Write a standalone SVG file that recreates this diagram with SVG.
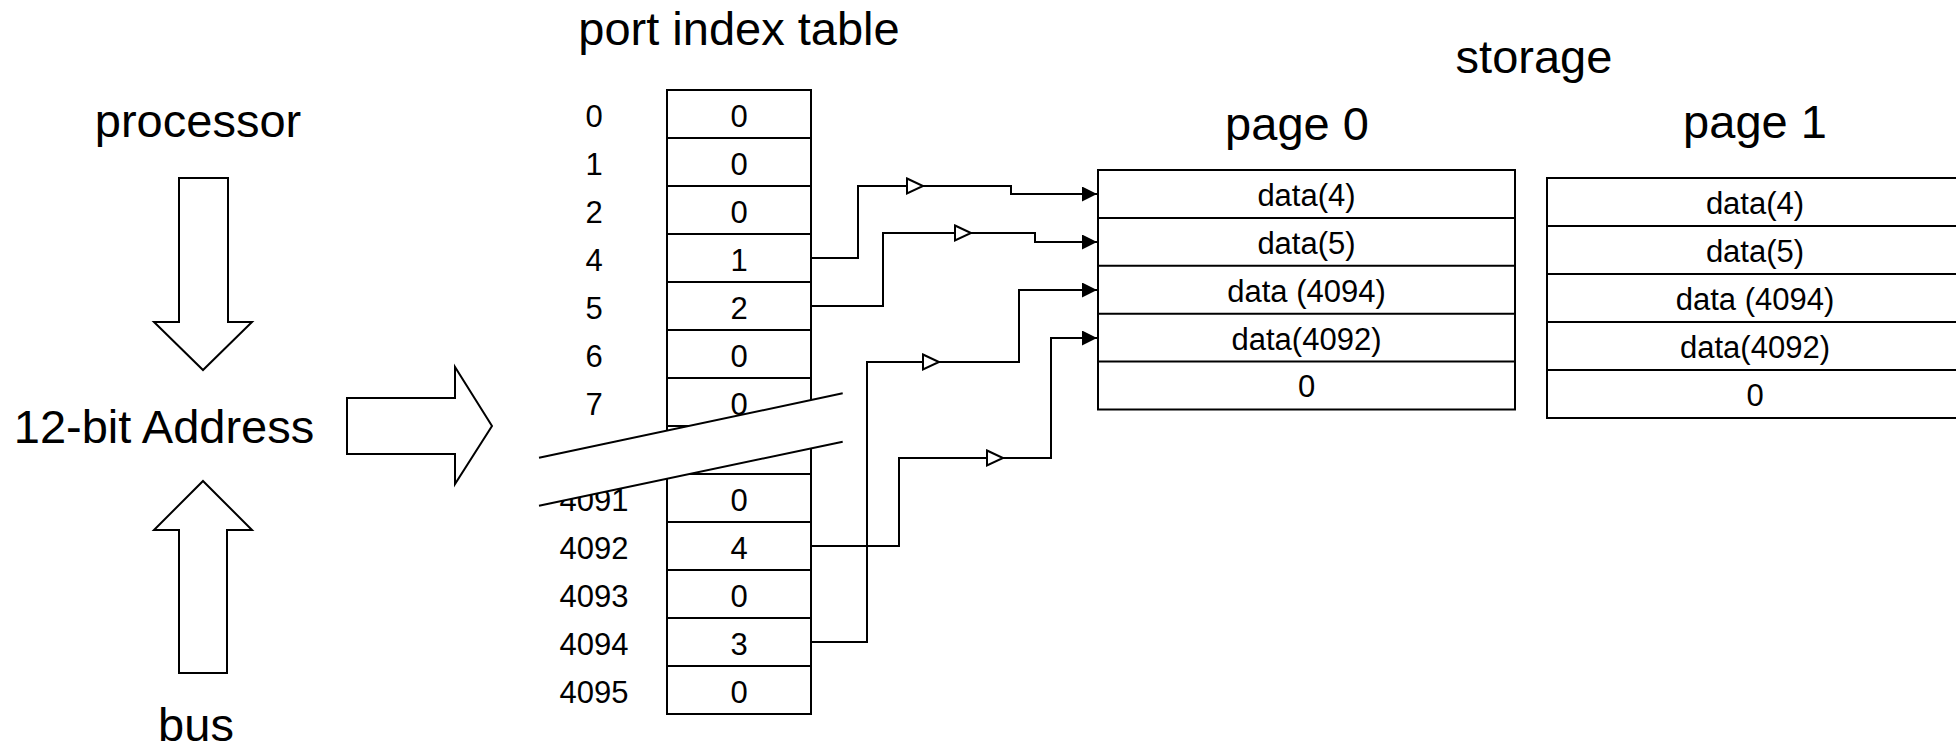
<svg xmlns="http://www.w3.org/2000/svg" width="1956" height="751" viewBox="0 0 1956 751">
<style>
text{font-family:"Liberation Sans",Arial,sans-serif;fill:#000;text-anchor:middle}
.t{font-size:47px}
.s{font-size:31px}
.box{fill:#fff;stroke:#000;stroke-width:2}
.ln{fill:none;stroke:#000;stroke-width:2}
.big{fill:#fff;stroke:#000;stroke-width:2;stroke-linejoin:miter}
.open{fill:#fff;stroke:#000;stroke-width:2;stroke-linejoin:miter}
</style>
<defs>
<marker id="ah" markerUnits="userSpaceOnUse" markerWidth="16" markerHeight="16" refX="15" refY="7.5" orient="auto" viewBox="0 0 16 16">
<path d="M0,0 L15,7.5 L0,15 z" fill="#000"/>
</marker>
<polygon id="tri" points="0,-7.5 16,0 0,7.5" class="open"/>
</defs>
<rect width="1956" height="751" fill="#fff"/>

<g id="processor">
<text class="t" x="198" y="137">processor</text>
<polygon class="big" points="179,178 228,178 228,322 252,322 203,370 154,322 179,322"/>
</g>

<g id="address">
<text class="t" x="164" y="443">12-bit Address</text>
<polygon class="big" points="347,398 455,398 455,367 492,426 455,484 455,454 347,454"/>
</g>

<g id="bus">
<polygon class="big" points="203,481 252,530 227,530 227,673 179,673 179,530 154,530"/>
<text class="t" x="196" y="741">bus</text>
</g>

<g id="port-index-table">
<text class="t" x="739" y="45">port index table</text>
<rect class="box" x="667" y="90" width="144" height="624"/>
<path class="ln" d="M667,138H811M667,186H811M667,234H811M667,282H811M667,330H811M667,378H811M667,426H811M667,474H811M667,522H811M667,570H811M667,618H811M667,666H811"/>
<g class="s">
<text x="594" y="127">0</text><text x="739" y="127">0</text>
<text x="594" y="175">1</text><text x="739" y="175">0</text>
<text x="594" y="223">2</text><text x="739" y="223">0</text>
<text x="594" y="271">4</text><text x="739" y="271">1</text>
<text x="594" y="319">5</text><text x="739" y="319">2</text>
<text x="594" y="367">6</text><text x="739" y="367">0</text>
<text x="594" y="415">7</text><text x="739" y="415">0</text>
<text x="594" y="511">4091</text><text x="739" y="511">0</text>
<text x="594" y="559">4092</text><text x="739" y="559">4</text>
<text x="594" y="607">4093</text><text x="739" y="607">0</text>
<text x="594" y="655">4094</text><text x="739" y="655">3</text>
<text x="594" y="703">4095</text><text x="739" y="703">0</text>
</g>
</g>

<g id="break">
<polygon points="539,457.7 842.7,393.3 842.7,441.7 539,505.7" fill="#fff"/>
<path class="ln" d="M539,457.7L842.7,393.3M539,505.7L842.7,441.7"/>
</g>

<g id="storage">
<text class="t" x="1534" y="73">storage</text>
</g>

<g id="page0">
<text class="t" x="1297" y="140">page 0</text>
<rect class="box" x="1098" y="170" width="417" height="239.5"/>
<path class="ln" d="M1098,217.9H1515M1098,265.8H1515M1098,313.7H1515M1098,361.6H1515"/>
<g class="s">
<text x="1306.5" y="206">data(4)</text>
<text x="1306.5" y="254">data(5)</text>
<text x="1306.5" y="302">data (4094)</text>
<text x="1306.5" y="350">data(4092)</text>
<text x="1306.5" y="397">0</text>
</g>
</g>

<g id="page1">
<text class="t" x="1755" y="138">page 1</text>
<rect class="box" x="1547" y="178" width="420" height="240"/>
<path class="ln" d="M1547,226H1967M1547,274H1967M1547,322H1967M1547,370H1967"/>
<g class="s">
<text x="1755" y="214">data(4)</text>
<text x="1755" y="262">data(5)</text>
<text x="1755" y="310">data (4094)</text>
<text x="1755" y="358">data(4092)</text>
<text x="1755" y="406">0</text>
</g>
</g>

<g id="connectors">
<path class="ln" marker-end="url(#ah)" d="M811,258H858V186H1011V194H1097"/>
<path class="ln" marker-end="url(#ah)" d="M811,306H883V233H1035V242H1097"/>
<path class="ln" marker-end="url(#ah)" d="M811,642H867V362H1019V290H1097"/>
<path class="ln" marker-end="url(#ah)" d="M811,546H899V458H1051V338H1097"/>
<use href="#tri" x="907" y="186"/>
<use href="#tri" x="955" y="233"/>
<use href="#tri" x="923" y="362"/>
<use href="#tri" x="987" y="458"/>
</g>
</svg>
